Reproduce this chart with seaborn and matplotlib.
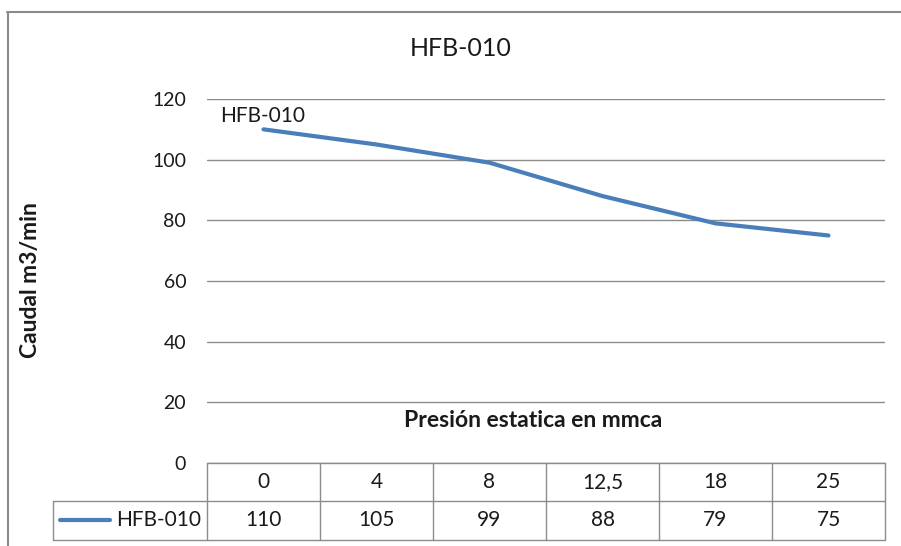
import numpy as np
import pandas as pd
import seaborn as sns
import matplotlib.pyplot as plt
from matplotlib.lines import Line2D
from matplotlib.transforms import blended_transform_factory

presion = ['0', '4', '8', '12,5', '18', '25']
caudal = [110, 105, 99, 88, 79, 75]
serie = 'HFB-010'

df = pd.DataFrame({'pos': range(len(presion)), 'caudal': caudal})

sns.set_theme(style='white')
plt.rcParams['font.family'] = ['Lato', 'DejaVu Sans']

W, H = 901, 546
fig = plt.figure(figsize=(W / 100, H / 100), dpi=100)
blue = '#4a7ebb'
grid = '#8c8c8c'
txt = '#1a1a1a'


def fx(px):
    return px / W


def fy(py):
    return 1 - py / H


# outer chart frame (Excel chart area border)
fig.add_artist(Line2D([fx(8), fx(8)], [fy(12), fy(560)], color='#8a8a8a', lw=1.5))
fig.add_artist(Line2D([fx(7), fx(905)], [fy(12), fy(12)], color='#8a8a8a', lw=1.5))

ax = fig.add_axes([fx(207), fy(463), fx(885) - fx(207), fy(99) - fy(463)])
sns.lineplot(data=df, x='pos', y='caudal', ax=ax, color=blue, lw=3,
             solid_capstyle='round', zorder=3)

ax.set_xlim(-0.5, len(presion) - 0.5)
ax.set_ylim(0, 120)
ax.set_yticks(range(0, 121, 20))
ax.set_xticks([])
ax.set_xlabel('')
ax.set_ylabel('')
ax.yaxis.grid(True, color=grid, lw=1)
for s in ['left', 'right', 'top', 'bottom']:
    ax.spines[s].set_visible(False)
ax.tick_params(axis='y', length=0, pad=15, labelsize=14, labelcolor=txt)

ax.annotate(serie, xy=(0, caudal[0]), xytext=(-31, 9.5), textcoords='offset points',
            ha='left', va='center', fontsize=15, color=txt)

ax.text(0.481, 0.118, 'Presión estatica en mmca', transform=ax.transAxes,
        ha='center', va='center', fontsize=16.5, fontweight='bold', color=txt)

fig.text(fx(461), fy(48), serie, ha='center', va='center', fontsize=18, color=txt)
fig.text(fx(31), fy(280), 'Caudal m3/min', ha='center', va='center', rotation=90,
         fontsize=16.5, fontweight='bold', color=txt)

# data table under the axis
tr = blended_transform_factory(ax.transData, fig.transFigure)
r0, r1, r2 = fy(463), fy(501), fy(540)
left = -0.5 - (207 - 53) / 113
n = len(presion)
kw = dict(transform=tr, color=grid, lw=1, clip_on=False)
fig.add_artist(Line2D([-0.5, n - 0.5], [r0, r0], **kw))
fig.add_artist(Line2D([left, n - 0.5], [r1, r1], **kw))
fig.add_artist(Line2D([left, n - 0.5], [r2, r2], **kw))
fig.add_artist(Line2D([left, left], [r1, r2], **kw))
for i in range(n + 1):
    fig.add_artist(Line2D([i - 0.5, i - 0.5], [r0, r2], **kw))
for i, (p, c) in enumerate(zip(presion, caudal)):
    fig.text(i, (r0 + r1) / 2, p, transform=tr, ha='center', va='center',
             fontsize=15, color=txt)
    fig.text(i, (r1 + r2) / 2, str(c), transform=tr, ha='center', va='center',
             fontsize=15, color=txt)
fig.add_artist(Line2D([fx(60), fx(110)], [fy(520), fy(520)], color=blue, lw=3,
                      solid_capstyle='round'))
fig.text(fx(201), fy(520), serie, ha='right', va='center', fontsize=15, color=txt)

fig.savefig('out.png', dpi=100)
